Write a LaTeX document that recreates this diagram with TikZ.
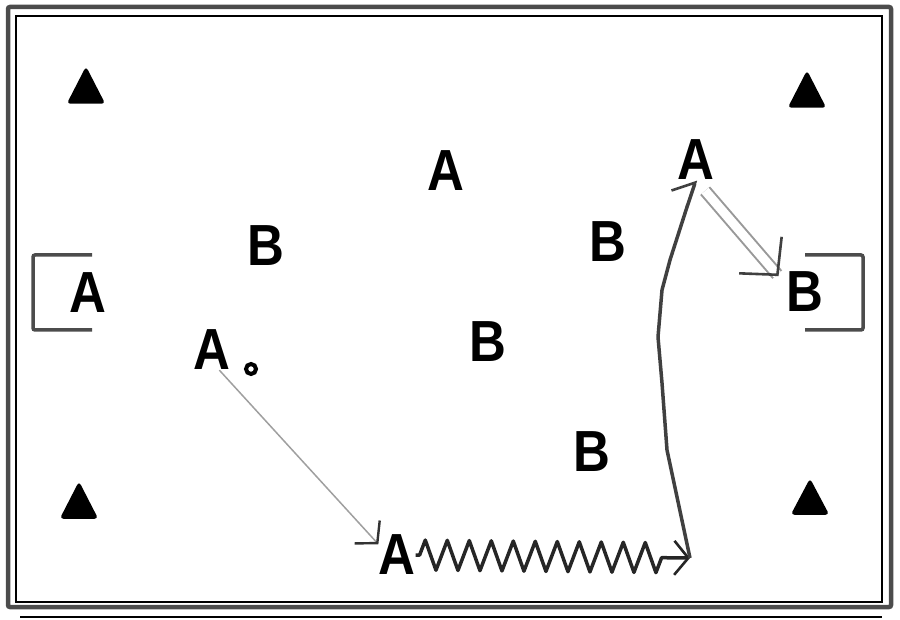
\documentclass[tikz,border=0pt]{standalone}
\usepackage{fontspec}
\newfontfamily\playerfont{Liberation Sans}[FakeStretch=0.88]
\usetikzlibrary{arrows.meta,decorations.pathmorphing,calc}

\begin{document}
\begin{tikzpicture}[x=1pt,y=-1pt,
  player/.style={font=\playerfont\bfseries\fontsize{58}{58}\selectfont, inner sep=0pt},
  cone/.style={fill=black, draw=black, line width=1.5pt, rounded corners=2.5pt},
  goal/.style={draw=gray!60!black, line width=3.5pt, rounded corners=2pt},
  pass/.style={draw=gray!75, line width=1.5pt,
    -{Straight Barb[length=15pt,width=34pt,line width=2.4pt,gray!40!black]}},
  longpass/.style={draw=gray!80, double=white, double distance=9pt, line width=2pt},
  longtip/.style={draw=gray!50!black, line width=2.5pt,
    -{Straight Barb[length=26pt,width=56pt,line width=2.6pt]}},
  dribble/.style={draw=gray!30!black, line width=3.5pt, line join=round,
    decorate, decoration={zigzag, segment length=22pt, amplitude=15pt, pre length=4pt, post length=26pt},
    -{Straight Barb[length=14pt,width=34pt,line width=2.6pt]}},
  run/.style={draw=gray!50!black, line width=3.5pt, line join=round,
    -{Straight Barb[harpoon,length=15pt,width=40pt,line width=2.6pt]}}]
\useasboundingbox (0,0) rectangle (900,620);
\draw [gray!60!black, line width=4.5pt, rounded corners=2pt] (8,7) rectangle (891,607);
\draw [black, line width=1.8pt] (16,16) rectangle (882,602);
\draw [black, line width=1.8pt] (20,617) -- (882,617);
\draw [goal] (92,255) -- (33,255) -- (33,330) -- (92,330);
\draw [goal] (805,255) -- (863,255) -- (863,330) -- (805,330);
\draw [cone] (86,68) -- (104,103) -- (68,103) -- cycle;
\draw [cone] (807,72) -- (825,107) -- (789,107) -- cycle;
\draw [cone] (79,483) -- (97,518) -- (61,518) -- cycle;
\draw [cone] (810,480) -- (828,514) -- (792,514) -- cycle;
\node [player] (atop) at (446,171) {A};
\node [player] (atr) at (696,160) {A};
\node [player] (bleft) at (266,246) {B};
\node [player] (bright) at (608,242) {B};
\node [player] (agoal) at (88,293) {A};
\node [player] (bgoal) at (805,292) {B};
\node [player] (amid) at (212,350) {A};
\node [player] (bcen) at (488,342) {B};
\node [player] (blow) at (592,452) {B};
\node [player] (abot) at (397,555) {A};
\draw [black, line width=4pt] (251,369) circle (5);
\coordinate (turn) at (690,558);
\draw [pass] (amid.-70) -- (abot.150);
\draw [dribble] (abot.east) -- (turn);
\draw [run] (turn) -- (667,450) -- (662,383) -- (658,337) -- (662,290) -- (670,260) -- (687,207) -- (atr.south);
\draw [longpass, shorten <=14pt, shorten >=14pt] (atr.south) -- (bgoal.160);
\draw [longtip, shorten >=12pt] ($(atr.south)!0.9!(bgoal.160)$) -- (bgoal.160);
\end{tikzpicture}
\end{document}
